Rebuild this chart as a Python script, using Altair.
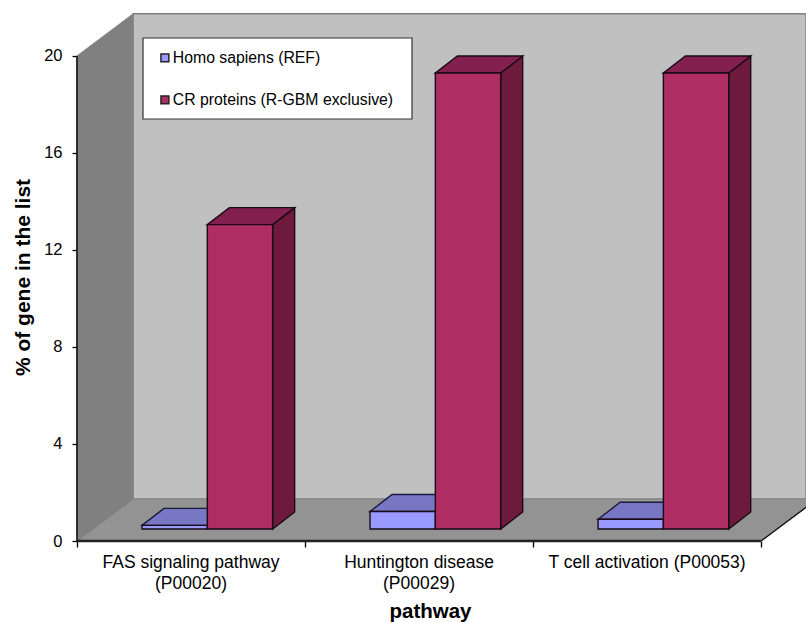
import altair as alt
import pandas as pd

# Chart values
pathways = ["FAS signaling pathway\n(P00020)", "Huntington disease\n(P00029)", "T cell activation (P00053)"]
series_names = ["Homo sapiens (REF)", "CR proteins (R-GBM exclusive)"]
homo_sapiens = [0.15, 0.72, 0.4]
cr_proteins = [12.55, 18.8, 18.8]
y_ticks = [0, 4, 8, 12, 16, 20]

# Layout of the oblique projection, in axis units
X_MAX = 3.197
Y_MAX = 21.77
WALL_DX = 0.2456
WALL_DY = 1.73
BAR_DX = 0.0965
BAR_DY = 0.70
BASE_Y = 0.495
BAR_START = 0.285
BAR_W = 0.2865

BLUE, BLUE_TOP = "#9999ff", "#7777c4"
RED, RED_TOP, RED_SIDE = "#ae2d63", "#84204f", "#6d1a3c"

x_enc = alt.X(
    "x:Q",
    scale=alt.Scale(domain=[0, X_MAX], nice=False, zero=False),
    axis=alt.Axis(values=[0, 1, 2, 3], labels=False, domain=False, grid=False, tickSize=6,
                  tickColor="#000000", tickWidth=1.3, title="pathway", titleX=353, titleY=60,
                  titleFontSize=20.5, titleFont="Liberation Sans", titleFontWeight="bold",
                  titleColor="#000000"),
)
y_enc = alt.Y(
    "y:Q",
    scale=alt.Scale(domain=[0, Y_MAX], nice=False, zero=False),
    axis=alt.Axis(values=y_ticks, format="d", domain=False, grid=False, tickSize=5,
                  tickColor="#000000", tickWidth=1.3, labelFontSize=16.5, labelPadding=10,
                  labelFont="Liberation Sans", labelColor="#000000",
                  title="% of gene in the list", titleFontSize=21, titleX=-44,
                  titleFont="Liberation Sans", titleFontWeight="bold", titleColor="#000000"),
)


def polygon_layer(rows, fill, stroke, width=1.4, clip=False):
    """Closed faces drawn as areas: each row gives x and the lower and upper edge there."""
    df = pd.DataFrame(rows, columns=["face", "x", "y", "y2"])
    return alt.Chart(df).mark_area(fill=fill, stroke=stroke, strokeWidth=width, clip=clip, opacity=1).encode(
        x=x_enc, y=y_enc, y2="y2:Q", detail="face:N"
    )


# Walls and floor
back_wall = polygon_layer(
    [("back", WALL_DX, Y_MAX - 0.03, WALL_DY), ("back", X_MAX, Y_MAX - 0.03, WALL_DY)],
    "#c0c0c0", "#808080", clip=True,
)
side_wall = polygon_layer(
    [("side", 0, 20, 0), ("side", WALL_DX, 20 + WALL_DY, WALL_DY)], "#808080", "#808080", 1,
)
floor = polygon_layer(
    [
        ("floor", 0, 0, 0),
        ("floor", WALL_DX, WALL_DY, 0),
        ("floor", 3, WALL_DY, 0),
        ("floor", 3 + WALL_DX, WALL_DY, WALL_DY),
    ],
    "#939393", "#8a8a8a", 1, clip=True,
)


def top_face(name, left, right, value):
    top = value + BASE_Y
    return [
        (name, left, top, top),
        (name, left + BAR_DX, top + BAR_DY, top),
        (name, right, top + BAR_DY, top),
        (name, right + BAR_DX, top + BAR_DY, top + BAR_DY),
    ]


def side_face(name, right, value):
    return [
        (name, right, BASE_Y + value, BASE_Y),
        (name, right + BAR_DX, BASE_Y + value + BAR_DY, BASE_Y + BAR_DY),
    ]


blue_tops, red_tops, red_sides, fronts = [], [], [], []
for i in range(len(pathways)):
    left = i + BAR_START
    mid = left + BAR_W
    right = mid + BAR_W
    blue_tops += top_face(f"b{i}", left, mid, homo_sapiens[i])
    red_tops += top_face(f"r{i}", mid, right, cr_proteins[i])
    red_sides += side_face(f"s{i}", right, cr_proteins[i])
    fronts.append({"x": left, "x2": mid, "y": BASE_Y, "y2": BASE_Y + homo_sapiens[i], "series": series_names[0]})
    fronts.append({"x": mid, "x2": right, "y": BASE_Y, "y2": BASE_Y + cr_proteins[i], "series": series_names[1]})

front_faces = alt.Chart(pd.DataFrame(fronts)).mark_rect(stroke="#1a0a1a", strokeWidth=1.4).encode(
    x=x_enc,
    x2="x2:Q",
    y=y_enc,
    y2="y2:Q",
    color=alt.Color(
        "series:N",
        scale=alt.Scale(domain=series_names, range=[BLUE, RED]),
        legend=alt.Legend(
            orient="none", legendX=80, legendY=37, padding=0, title=None, symbolType="square",
            symbolSize=62, symbolStrokeColor="#222222", symbolStrokeWidth=1.5, rowPadding=25,
            labelFont="Liberation Sans", labelFontSize=15.8, labelColor="#000000", labelOffset=0,
            labelLimit=300,
        ),
    ),
)

# Legend panel, placed in screen space
legend_panel = alt.Chart(pd.DataFrame({"k": [0]})).mark_rect(
    fill="#ffffff", stroke="#333333", strokeWidth=1.2
).encode(x=alt.value(66), x2=alt.value(335), y=alt.value(25), y2=alt.value(106))


def edge(points, color, width, clip=False):
    df = pd.DataFrame(points, columns=["x", "y"])
    return alt.Chart(df).mark_line(color=color, strokeWidth=width, clip=clip).encode(x=x_enc, y=y_enc)


y_axis_line = edge([(0, 0), (0, 20)], "#111111", 1.6)
x_axis_line = edge([(0, 0), (3, 0)], "#222222", 2.6)
floor_right = edge([(3, 0), (3 + WALL_DX, WALL_DY)], "#111111", 1.3, clip=True)

# Category names under the axis
labels = alt.Chart(
    pd.DataFrame({"x": [i + 0.5 for i in range(len(pathways))], "y": [0] * len(pathways), "label": pathways})
).mark_text(
    baseline="top", dy=13, align="center", lineBreak="\n", lineHeight=21, fontSize=17.5,
    font="Liberation Sans", color="#000000",
).encode(x=x_enc, y=y_enc, text="label:N")

chart = alt.layer(
    back_wall,
    floor,
    side_wall,
    polygon_layer(blue_tops, BLUE_TOP, "#1a1a3a"),
    polygon_layer(red_sides, RED_SIDE, "#1a0a14"),
    polygon_layer(red_tops, RED_TOP, "#1a0a14"),
    front_faces,
    floor_right,
    y_axis_line,
    x_axis_line,
    legend_panel,
    labels,
).properties(
    width=729,
    height=528,
    autosize=alt.AutoSizeParams(type="none"),
    padding={"left": 77, "top": 13, "right": 0, "bottom": 82},
    background="#ffffff",
).configure_view(stroke=None)

chart.save("out.html", embed_options={"renderer": "svg", "actions": False})
